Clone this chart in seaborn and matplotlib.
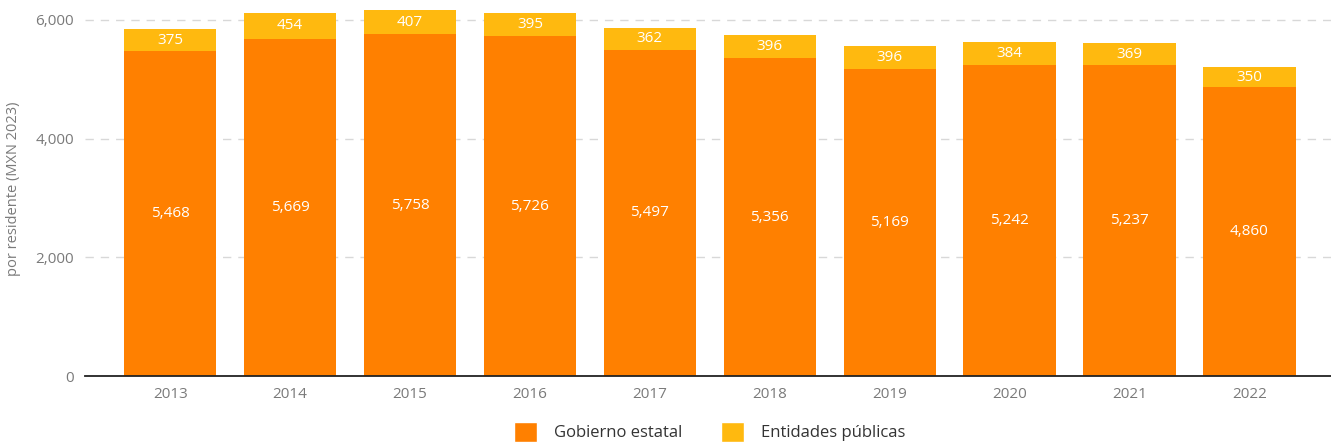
import matplotlib
matplotlib.use("Agg")
import matplotlib.pyplot as plt
import seaborn as sns
import pandas as pd
from matplotlib.patches import Patch

years = ["2013", "2014", "2015", "2016", "2017", "2018", "2019", "2020", "2021", "2022"]
gobierno_estatal = [5468, 5669, 5758, 5726, 5497, 5356, 5169, 5242, 5237, 4860]
entidades_publicas = [375, 454, 407, 395, 362, 396, 396, 384, 369, 350]
y_ticks = [0, 2000, 4000, 6000]

ORANGE = "#FF8000"
YELLOW = "#FFB90F"
TICK_GRAY = "#7a7a7a"

sns.set_theme(style="white")
plt.rcParams["font.family"] = ["Open Sans", "DejaVu Sans"]

df = pd.DataFrame({
    "year": years,
    "gobierno": gobierno_estatal,
    "entidades": entidades_publicas,
})
df["total"] = df["gobierno"] + df["entidades"]

fig = plt.figure(figsize=(13.31, 4.46), dpi=100)
ax = fig.add_axes([85 / 1331, 1 - 376 / 446, 1 - 85 / 1331, (376 - 2) / 446])

sns.barplot(data=df, x="year", y="total", color=YELLOW, saturation=1,
            width=0.77, ax=ax, zorder=3, linewidth=0)
sns.barplot(data=df, x="year", y="gobierno", color=ORANGE, saturation=1,
            width=0.77, ax=ax, zorder=3, linewidth=0)

for i, (g, e) in enumerate(zip(gobierno_estatal, entidades_publicas)):
    ax.text(i, g / 2, f"{g:,}", ha="center", va="center", color="white",
            fontsize=11, zorder=4)
    ax.text(i, g + e / 2, f"{e:,}", ha="center", va="center", color="white",
            fontsize=11, zorder=4)

ax.set_xlim(-0.71, 9.68)
ax.set_ylim(0, 6300)
ax.set_yticks(y_ticks)
ax.set_yticklabels([f"{v:,}" for v in y_ticks])
ax.yaxis.grid(True, linestyle=(0, (6, 5)), color="#d8d8d8", linewidth=1, zorder=0)
ax.set_axisbelow(True)

for side in ["top", "right", "left"]:
    ax.spines[side].set_visible(False)
ax.spines["bottom"].set_color("#222222")
ax.spines["bottom"].set_linewidth(1.3)
ax.spines["bottom"].set_zorder(5)

ax.tick_params(axis="both", length=0, colors=TICK_GRAY, labelsize=11)
ax.tick_params(axis="x", pad=8)
ax.tick_params(axis="y", pad=8)
ax.set_xlabel("")
ax.set_ylabel("por residente (MXN 2023)", color=TICK_GRAY, fontsize=10.5, labelpad=10)

handles = [Patch(facecolor=ORANGE, label="Gobierno estatal"),
           Patch(facecolor=YELLOW, label="Entidades públicas")]
fig.legend(handles=handles, loc="lower center", bbox_to_anchor=(0.533, -0.025),
           ncol=2, frameon=False, fontsize=12, handlelength=1.4,
           handleheight=1.5, columnspacing=2.3, handletextpad=1.0,
           labelcolor="#333333")

fig.savefig("out.png", dpi=100)
